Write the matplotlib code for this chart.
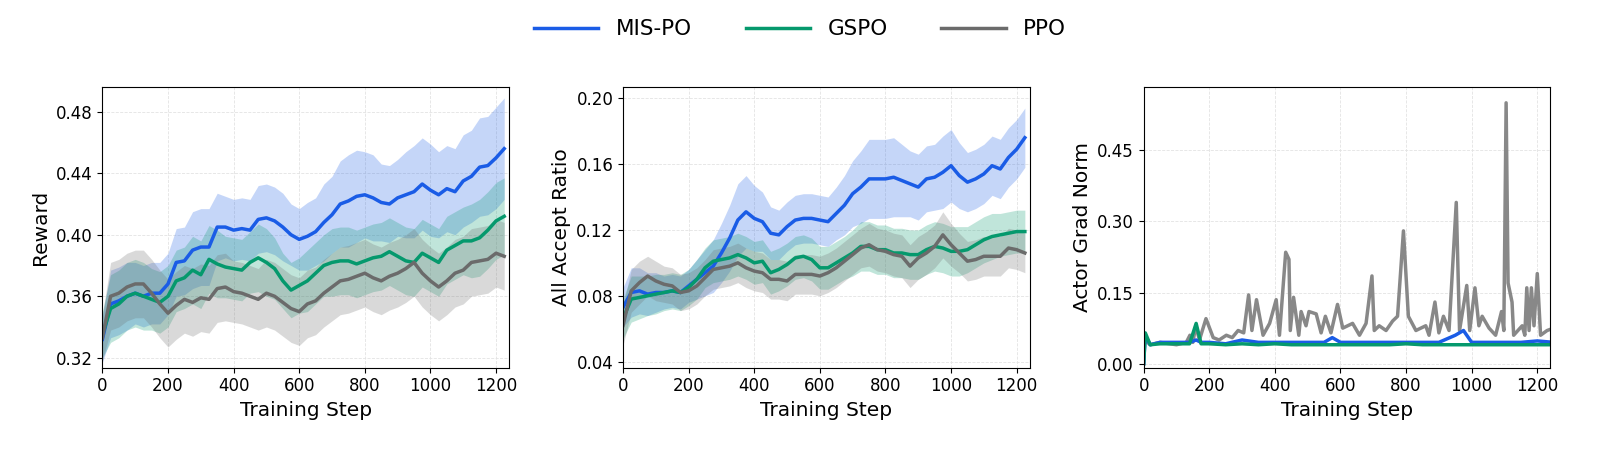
import numpy as np
import matplotlib
matplotlib.use("Agg")
import matplotlib.pyplot as plt

steps = list(range(0, 1250, 25))

# Panel 1: Reward
rew_mis = [0.332,0.355,0.357,0.360,0.362,0.360,0.362,0.362,0.368,0.382,0.383,0.390,0.392,0.392,0.405,0.405,0.403,0.404,0.403,0.410,
           0.411,0.409,0.405,0.400,0.397,0.399,0.402,0.408,0.413,0.420,0.422,0.425,0.426,0.424,0.421,0.420,0.424,0.426,0.428,0.433,
           0.429,0.426,0.430,0.428,0.435,0.438,0.444,0.445,0.450,0.456]
rew_mis_sd = [0.015,0.022,0.022,0.022,0.020,0.020,0.020,0.020,0.020,0.022,0.022,0.025,0.025,0.025,0.022,0.020,0.020,0.020,0.020,0.022,
              0.022,0.022,0.022,0.020,0.020,0.022,0.022,0.025,0.025,0.028,0.030,0.030,0.028,0.028,0.025,0.025,0.025,0.028,0.030,0.030,
              0.030,0.028,0.028,0.028,0.030,0.030,0.032,0.032,0.033,0.033]
rew_gspo = [0.335,0.352,0.355,0.360,0.362,0.360,0.358,0.356,0.360,0.370,0.372,0.377,0.374,0.384,0.381,0.379,0.378,0.377,0.382,0.385,
            0.382,0.378,0.370,0.364,0.367,0.370,0.375,0.380,0.382,0.383,0.383,0.381,0.383,0.385,0.386,0.389,0.386,0.383,0.382,0.388,
            0.385,0.382,0.390,0.393,0.396,0.396,0.398,0.403,0.409,0.412]
rew_gspo_sd = [0.015,0.022,0.022,0.022,0.022,0.022,0.020,0.020,0.020,0.020,0.020,0.022,0.022,0.022,0.022,0.020,0.020,0.020,0.020,0.022,
               0.022,0.020,0.018,0.018,0.018,0.020,0.020,0.020,0.022,0.022,0.022,0.022,0.022,0.022,0.022,0.022,0.022,0.022,0.022,0.022,
               0.022,0.022,0.022,0.022,0.022,0.024,0.025,0.025,0.025,0.025]
rew_ppo = [0.333,0.360,0.362,0.366,0.368,0.368,0.362,0.355,0.349,0.354,0.358,0.356,0.359,0.358,0.365,0.366,0.363,0.362,0.360,0.358,
           0.362,0.360,0.356,0.352,0.350,0.355,0.357,0.362,0.366,0.370,0.371,0.373,0.375,0.372,0.370,0.373,0.375,0.378,0.382,0.375,
           0.370,0.366,0.370,0.375,0.377,0.382,0.383,0.384,0.388,0.386]
rew_ppo_sd = [0.015,0.022,0.022,0.022,0.022,0.022,0.022,0.022,0.022,0.022,0.022,0.022,0.022,0.022,0.022,0.022,0.020,0.020,0.020,0.020,
              0.022,0.022,0.022,0.022,0.022,0.022,0.022,0.022,0.022,0.022,0.022,0.022,0.022,0.022,0.022,0.022,0.022,0.022,0.022,0.022,
              0.022,0.022,0.022,0.022,0.022,0.022,0.022,0.022,0.022,0.022]

# Panel 2: All Accept Ratio
acc_mis = [0.073,0.082,0.083,0.081,0.082,0.082,0.083,0.082,0.086,0.090,0.094,0.098,0.106,0.115,0.126,0.131,0.127,0.125,0.118,0.117,
           0.122,0.126,0.127,0.127,0.126,0.125,0.130,0.135,0.142,0.146,0.151,0.151,0.151,0.152,0.150,0.148,0.146,0.151,0.152,0.155,
           0.159,0.153,0.149,0.151,0.154,0.159,0.157,0.164,0.169,0.176]
acc_mis_sd = [0.012,0.015,0.014,0.013,0.012,0.010,0.010,0.010,0.010,0.012,0.014,0.016,0.018,0.020,0.022,0.022,0.020,0.018,0.016,0.015,
              0.015,0.015,0.015,0.015,0.015,0.015,0.016,0.018,0.020,0.022,0.024,0.024,0.024,0.024,0.022,0.020,0.020,0.020,0.020,0.022,
              0.022,0.020,0.018,0.018,0.018,0.018,0.018,0.018,0.018,0.018]
acc_gspo = [0.066,0.078,0.079,0.080,0.081,0.082,0.083,0.082,0.085,0.090,0.097,0.101,0.102,0.103,0.105,0.103,0.100,0.101,0.094,0.096,
            0.099,0.103,0.104,0.102,0.097,0.097,0.100,0.103,0.106,0.110,0.110,0.108,0.108,0.106,0.106,0.105,0.105,0.108,0.110,0.109,
            0.107,0.107,0.108,0.111,0.114,0.116,0.117,0.118,0.119,0.119]
acc_gspo_sd = [0.012,0.014,0.013,0.012,0.012,0.011,0.011,0.011,0.011,0.012,0.012,0.013,0.013,0.013,0.013,0.013,0.013,0.013,0.013,0.013,
               0.013,0.013,0.013,0.013,0.013,0.013,0.013,0.013,0.014,0.015,0.015,0.015,0.015,0.015,0.015,0.015,0.015,0.015,0.015,0.015,
               0.015,0.015,0.014,0.014,0.014,0.014,0.013,0.013,0.013,0.013]
acc_ppo = [0.062,0.083,0.088,0.092,0.089,0.087,0.086,0.082,0.083,0.086,0.091,0.096,0.097,0.098,0.100,0.097,0.095,0.094,0.090,0.090,
           0.089,0.093,0.093,0.093,0.092,0.094,0.097,0.101,0.105,0.109,0.111,0.108,0.107,0.105,0.104,0.098,0.103,0.106,0.110,0.117,
           0.111,0.106,0.101,0.102,0.104,0.104,0.104,0.109,0.108,0.106]
acc_ppo_sd = [0.012,0.013,0.013,0.012,0.012,0.011,0.011,0.011,0.011,0.011,0.011,0.012,0.012,0.012,0.012,0.012,0.012,0.012,0.012,0.012,
              0.012,0.012,0.012,0.012,0.012,0.012,0.012,0.012,0.012,0.012,0.013,0.013,0.013,0.013,0.013,0.013,0.013,0.013,0.013,0.014,
              0.013,0.012,0.012,0.012,0.012,0.012,0.012,0.012,0.012,0.012]

# Panel 3: Actor Grad Norm
gn_ppo_steps = [0,3,20,50,100,130,141,150,159,170,190,212,230,252,270,288,305,320,330,344,364,384,404,414,433,443,447,457,473,480,
                495,504,526,541,554,571,591,607,637,658,678,696,703,718,739,759,774,792,807,830,860,870,888,900,914,931,953,963,985,
                994,1010,1022,1032,1053,1073,1091,1098,1105,1111,1123,1128,1154,1162,1168,1175,1182,1190,1200,1210,1230,1250]
gn_ppo = [0.0,0.05,0.04,0.045,0.04,0.045,0.06,0.045,0.08,0.05,0.095,0.055,0.05,0.06,0.055,0.07,0.065,0.145,0.07,0.135,
          0.06,0.085,0.135,0.06,0.235,0.22,0.07,0.14,0.06,0.11,0.08,0.11,0.105,0.065,0.10,0.065,0.125,0.075,0.085,0.06,
          0.085,0.185,0.07,0.08,0.07,0.09,0.10,0.28,0.10,0.07,0.08,0.06,0.13,0.065,0.10,0.07,0.34,0.07,0.165,0.07,
          0.16,0.08,0.10,0.075,0.06,0.11,0.07,0.55,0.17,0.13,0.06,0.08,0.06,0.16,0.07,0.16,0.08,0.19,0.06,0.07,0.075]
gn_steps = [0,5,20,50,100,140,160,175,200,250,300,350,400,450,500,550,575,600,650,700,750,800,850,900,950,975,1000,
            1050,1100,1150,1200,1250]
gn_mis = [0.0,0.06,0.04,0.045,0.045,0.045,0.05,0.045,0.045,0.042,0.05,0.045,0.045,0.045,0.045,0.045,0.055,0.045,0.045,0.045,
          0.045,0.045,0.045,0.045,0.06,0.07,0.045,0.045,0.045,0.045,0.048,0.045]
gn_gspo = [0.0,0.065,0.04,0.042,0.042,0.042,0.085,0.042,0.042,0.04,0.042,0.04,0.042,0.04,0.04,0.04,0.04,0.04,0.04,0.04,
           0.04,0.042,0.04,0.04,0.04,0.04,0.04,0.04,0.04,0.04,0.04,0.04]

C_BLUE = "#1a5ce6"
C_GREEN = "#05996d"
C_GRAY = "#6b6b6b"

fig, axes = plt.subplots(1, 3, figsize=(16, 4.54), dpi=100)
fig.subplots_adjust(left=0.064, right=0.969, bottom=0.19, top=0.808, wspace=0.28)

def panel(ax, series, ylim, yticks, ylabel):
    for m, sd, c, lab in series:
        m = np.array(m); sd = np.array(sd)
        ax.fill_between(steps, m - sd, m + sd, color=c, alpha=0.25, linewidth=0)
        ax.plot(steps, m, color=c, lw=2.5, label=lab)
    ax.set_ylim(*ylim)
    ax.set_yticks(yticks)
    ax.set_ylabel(ylabel, fontsize=14.5)

panel(axes[0], [(rew_mis, rew_mis_sd, C_BLUE, "MIS-PO"), (rew_gspo, rew_gspo_sd, C_GREEN, "GSPO"),
                (rew_ppo, rew_ppo_sd, C_GRAY, "PPO")],
      (0.3135, 0.496), [0.32, 0.36, 0.40, 0.44, 0.48], "Reward")
panel(axes[1], [(acc_mis, acc_mis_sd, C_BLUE, "MIS-PO"), (acc_gspo, acc_gspo_sd, C_GREEN, "GSPO"),
                (acc_ppo, acc_ppo_sd, C_GRAY, "PPO")],
      (0.0363, 0.2067), [0.04, 0.08, 0.12, 0.16, 0.20], "All Accept Ratio")

ax = axes[2]
ax.plot(gn_ppo_steps, gn_ppo, color="#888888", lw=2.5)
ax.plot(gn_steps, gn_mis, color=C_BLUE, lw=2.5)
ax.plot(gn_steps, gn_gspo, color=C_GREEN, lw=2.5)
ax.set_ylim(-0.0085, 0.583)
ax.set_yticks([0.0, 0.15, 0.30, 0.45])
ax.set_ylabel("Actor Grad Norm", fontsize=14.5)

for ax in axes:
    ax.set_xlim(0, 1240)
    ax.set_xticks([0, 200, 400, 600, 800, 1000, 1200])
    ax.set_xlabel("Training Step", fontsize=14.5)
    ax.tick_params(labelsize=12)
    ax.grid(True, ls="--", lw=0.6, color="#e3e3e3")
    ax.set_axisbelow(True)
    ax.yaxis.set_major_formatter(matplotlib.ticker.FormatStrFormatter("%.2f"))

h, l = axes[0].get_legend_handles_labels()
fig.legend(h, l, loc="upper center", ncol=3, fontsize=15.5, frameon=False,
           bbox_to_anchor=(0.5, 1.0), handlelength=3, columnspacing=2.5)

fig.savefig("out.png", dpi=100)
